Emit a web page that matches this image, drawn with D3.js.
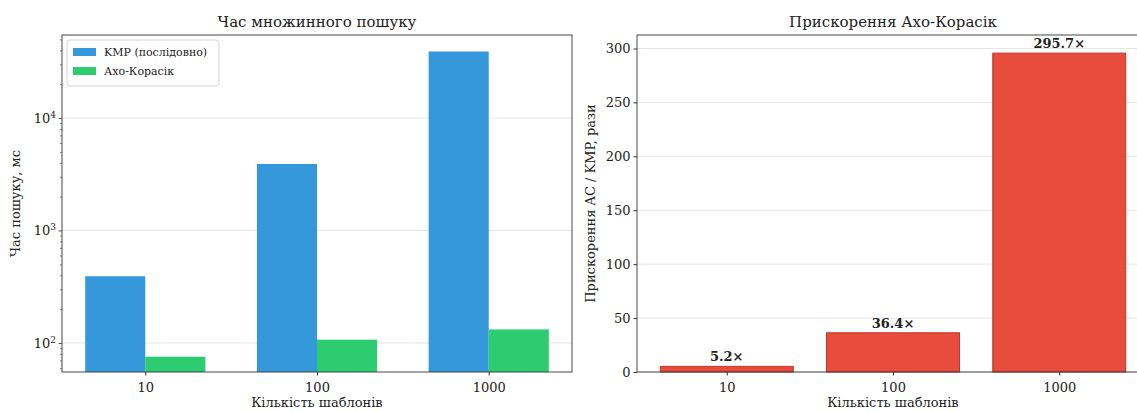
<!DOCTYPE html>
<html><head><meta charset="utf-8">
<script src="https://cdn.jsdelivr.net/npm/d3@7"></script>
<style>
body{margin:0;background:#fff;}
svg{display:block;font-family:"DejaVu Serif",serif;}
</style></head>
<body><svg id="c" width="1137" height="412"></svg>
<script>
const categories = ["10", "100", "1000"];
const kmpTimes = [392, 3900, 39000];
const acTimes = [75.5, 107, 132];
const speedups = [5.2, 36.4, 295.7];
const speedupLabels = ["5.2×", "36.4×", "295.7×"];
const seriesNames = ["KMP (послідовно)", "Ахо-Корасік"];
const logMajorTicks = [100, 1000, 10000];
const linearTicks = [0, 50, 100, 150, 200, 250, 300];

const svg = d3.select("#c");
const axisColor = "#333";
const gridColor = "#e6e6e6";

// ---------- Left chart ----------
const L = {x0: 62, x1: 572, y0: 35, y1: 372};
const xL = d3.scalePoint().domain(categories).range([L.x0, L.x1]).padding(0.485);
const yL = d3.scaleLog().domain([55.2, 54700]).range([L.y1, L.y0]);
const bwL = xL.step() * 0.35;
const gL = svg.append("g");

gL.selectAll(".grid").data(logMajorTicks).enter().append("line")
  .attr("x1", L.x0).attr("x2", L.x1)
  .attr("y1", d => yL(d)).attr("y2", d => yL(d))
  .attr("stroke", gridColor).attr("stroke-width", 1);

gL.selectAll(".kmp").data(categories).enter().append("rect")
  .attr("x", d => xL(d) - bwL).attr("width", bwL)
  .attr("y", (d, i) => yL(kmpTimes[i])).attr("height", (d, i) => L.y1 - yL(kmpTimes[i]))
  .attr("fill", "#3498db");
gL.selectAll(".ac").data(categories).enter().append("rect")
  .attr("x", d => xL(d)).attr("width", bwL)
  .attr("y", (d, i) => yL(acTimes[i])).attr("height", (d, i) => L.y1 - yL(acTimes[i]))
  .attr("fill", "#2ecc71");

const minor = [];
for (let e = 1; e <= 4; e++) for (let m = 2; m <= 9; m++) {
  const v = m * Math.pow(10, e);
  if (v >= yL.domain()[0] && v <= yL.domain()[1]) minor.push(v);
}
const axL = gL.append("g").attr("transform", `translate(${L.x0},0)`)
  .call(d3.axisLeft(yL).tickValues(minor).tickSize(2).tickFormat(""));
axL.select(".domain").remove();
axL.selectAll("line").attr("stroke", axisColor).attr("stroke-width", 0.6);

const axLM = gL.append("g").attr("transform", `translate(${L.x0},0)`)
  .call(d3.axisLeft(yL).tickValues(logMajorTicks).tickSize(3.5).tickFormat(""));
axLM.select(".domain").remove();
axLM.selectAll("line").attr("stroke", axisColor).attr("stroke-width", 0.8);
axLM.selectAll(".tick").each(function(d) {
  const t = d3.select(this).append("text").attr("x", -6).attr("dy", "0.32em")
    .attr("text-anchor", "end").attr("fill", "#222").attr("font-size", 13)
    .attr("font-family", "DejaVu Serif");
  t.append("tspan").text("10");
  t.append("tspan").attr("dy", "-0.55em").attr("font-size", 9).text(String(Math.round(Math.log10(d))));
});

const axLX = gL.append("g").attr("transform", `translate(0,${L.y1})`)
  .call(d3.axisBottom(xL).tickSize(3.5));
axLX.select(".domain").remove();
axLX.selectAll("line").attr("stroke", axisColor);
axLX.selectAll("text").attr("font-size", 13).attr("fill", "#222").attr("dy", "1.05em")
  .attr("font-family", "DejaVu Serif");

gL.append("rect").attr("x", L.x0).attr("y", L.y0).attr("width", L.x1 - L.x0).attr("height", L.y1 - L.y0)
  .attr("fill", "none").attr("stroke", axisColor).attr("stroke-width", 0.9);

gL.append("text").attr("x", (L.x0 + L.x1) / 2).attr("y", 27).attr("text-anchor", "middle")
  .attr("font-size", 15).attr("fill", "#222").text("Час множинного пошуку");
gL.append("text").attr("x", (L.x0 + L.x1) / 2).attr("y", 407).attr("text-anchor", "middle")
  .attr("font-size", 13).attr("fill", "#222").text("Кількість шаблонів");
gL.append("text").attr("transform", `translate(20,${(L.y0 + L.y1) / 2}) rotate(-90)`)
  .attr("text-anchor", "middle").attr("font-size", 13).attr("fill", "#222").text("Час пошуку, мс");

const lg = gL.append("g").attr("transform", "translate(67,40)");
lg.append("rect").attr("width", 152).attr("height", 46).attr("rx", 3)
  .attr("fill", "#fff").attr("fill-opacity", 0.8).attr("stroke", "#d5d5d5");
const legendColors = ["#3498db", "#2ecc71"];
seriesNames.forEach((n, i) => {
  lg.append("rect").attr("x", 6).attr("y", 8 + i * 19).attr("width", 23).attr("height", 8)
    .attr("fill", legendColors[i]);
  lg.append("text").attr("x", 37).attr("y", 16 + i * 19).attr("font-size", 11)
    .attr("font-family", "DejaVu Serif").attr("fill", "#222").text(n);
});

// ---------- Right chart ----------
const R = {x0: 637, x1: 1149, y0: 35, y1: 372};
const xR = d3.scalePoint().domain(categories).range([R.x0, R.x1]).padding(0.54);
const yR = d3.scaleLinear().domain([0, 312.5]).range([R.y1, R.y0]);
const bwR = xR.step() * 0.8;
const gR = svg.append("g");

gR.selectAll(".grid").data(linearTicks).enter().append("line")
  .attr("x1", R.x0).attr("x2", R.x1)
  .attr("y1", d => yR(d)).attr("y2", d => yR(d))
  .attr("stroke", gridColor).attr("stroke-width", 1);

gR.selectAll(".sp").data(categories).enter().append("rect")
  .attr("x", d => xR(d) - bwR / 2).attr("width", bwR)
  .attr("y", (d, i) => yR(speedups[i])).attr("height", (d, i) => R.y1 - yR(speedups[i]))
  .attr("fill", "#e74c3c").attr("stroke", "#c0392b").attr("stroke-width", 1);

gR.selectAll(".lbl").data(categories).enter().append("text")
  .attr("x", d => xR(d)).attr("y", (d, i) => yR(speedups[i]) - 5)
  .attr("text-anchor", "middle").attr("font-size", 13).attr("font-weight", "bold")
  .attr("fill", "#222").text((d, i) => speedupLabels[i]);

const axRY = gR.append("g").attr("transform", `translate(${R.x0},0)`)
  .call(d3.axisLeft(yR).tickValues(linearTicks).tickSize(3.5));
axRY.select(".domain").remove();
axRY.selectAll("line").attr("stroke", axisColor);
axRY.selectAll("text").attr("font-size", 13).attr("fill", "#222").attr("font-family", "DejaVu Serif");

const axRX = gR.append("g").attr("transform", `translate(0,${R.y1})`)
  .call(d3.axisBottom(xR).tickSize(3.5));
axRX.select(".domain").remove();
axRX.selectAll("line").attr("stroke", axisColor);
axRX.selectAll("text").attr("font-size", 13).attr("fill", "#222").attr("dy", "1.05em")
  .attr("font-family", "DejaVu Serif");

gR.append("rect").attr("x", R.x0).attr("y", R.y0).attr("width", R.x1 - R.x0).attr("height", R.y1 - R.y0)
  .attr("fill", "none").attr("stroke", axisColor).attr("stroke-width", 0.9);

gR.append("text").attr("x", (R.x0 + R.x1) / 2).attr("y", 27).attr("text-anchor", "middle")
  .attr("font-size", 15).attr("fill", "#222").text("Прискорення Ахо-Корасік");
gR.append("text").attr("x", (R.x0 + R.x1) / 2).attr("y", 407).attr("text-anchor", "middle")
  .attr("font-size", 13).attr("fill", "#222").text("Кількість шаблонів");
gR.append("text").attr("transform", `translate(595,${(R.y0 + R.y1) / 2}) rotate(-90)`)
  .attr("text-anchor", "middle").attr("font-size", 13).attr("fill", "#222").text("Прискорення AC / KMP, рази");
</script></body></html>
